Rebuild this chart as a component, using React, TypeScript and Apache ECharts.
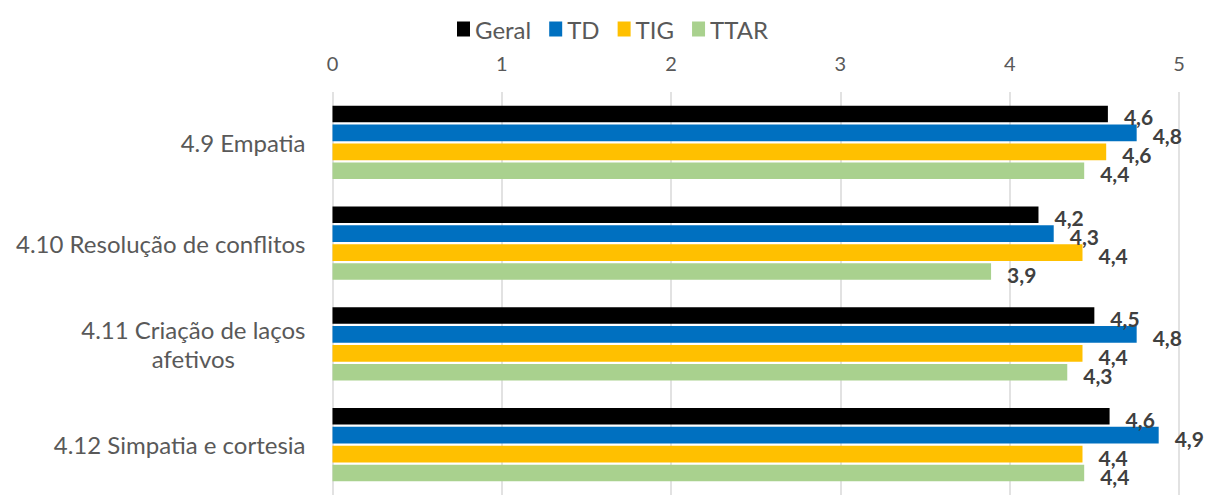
import React, { useEffect, useRef } from "react";
import * as echarts from "echarts";

const categories = [
  "4.9 Empatia",
  "4.10 Resolução de conflitos",
  "4.11 Criação de laços afetivos",
  "4.12 Simpatia e cortesia",
];
const seriesNames = ["Geral", "TD", "TIG", "TTAR"];
const geral = [4.58, 4.17, 4.5, 4.59];
const td = [4.75, 4.26, 4.75, 4.88];
const tig = [4.57, 4.43, 4.43, 4.43];
const ttar = [4.44, 3.89, 4.34, 4.44];
const colors = ["#000000", "#0070C0", "#FFC000", "#A9D18E"];
const xTicks = [0, 1, 2, 3, 4, 5];

const FONT = "Lato";

export default function App() {
  const ref = useRef<HTMLDivElement>(null);
  useEffect(() => {
    if (!ref.current) return;
    const chart = echarts.init(ref.current, null, { renderer: "svg" });
    const values = [geral, td, tig, ttar];
    chart.setOption({
      animation: false,
      textStyle: { fontFamily: FONT },
      legend: {
        top: 12,
        left: 452,
        itemWidth: 13,
        itemHeight: 15,
        itemGap: 18,
        icon: "rect",
        textStyle: { color: "#595959", fontSize: 24, fontFamily: FONT },
        data: seriesNames,
      },
      grid: { left: 332.5, right: 26, top: 92, height: 408 },
      xAxis: {
        type: "value",
        position: "top",
        min: xTicks[0],
        max: xTicks[xTicks.length - 1],
        interval: 1,
        axisLine: { show: false },
        axisTick: { show: false },
        axisLabel: { color: "#595959", fontSize: 20, margin: 19, fontFamily: FONT },
        splitLine: { lineStyle: { color: "#d9d9d9", width: 1.5 } },
      },
      yAxis: {
        type: "category",
        inverse: true,
        data: categories,
        axisLine: { show: false },
        axisTick: { show: false },
        axisLabel: {
          color: "#595959",
          fontSize: 24,
          margin: 27,
          fontFamily: FONT,
          formatter: (v: string) =>
            v === "4.11 Criação de laços afetivos"
              ? "{a|4.11 Criação de laços}\n{b|afetivos}"
              : "{a|" + v + "}",
          rich: {
            a: { color: "#595959", fontSize: 24, fontFamily: FONT, lineHeight: 29 },
            b: { color: "#595959", fontSize: 24, fontFamily: FONT, lineHeight: 29, width: 188, align: "center" },
          },
        },
      },
      series: seriesNames.map((name, i) => ({
        name,
        type: "bar",
        data: values[i],
        barWidth: 16.6,
        barGap: "14%",
        itemStyle: { color: colors[i] },
        label: {
          show: true,
          position: "right",
          distance: 16,
          offset: [0, 3],
          color: "#404040",
          fontWeight: "bold",
          fontSize: 21,
          lineHeight: 16,
          fontFamily: FONT,
          formatter: (p: any) => p.value.toFixed(1).replace(".", ","),
        },
      })),
    });
    return () => chart.dispose();
  }, []);
  return (
    <div
      ref={ref}
      style={{ position: "absolute", left: 0, top: 0, width: 1205, height: 495, background: "#fff" }}
    />
  );
}
